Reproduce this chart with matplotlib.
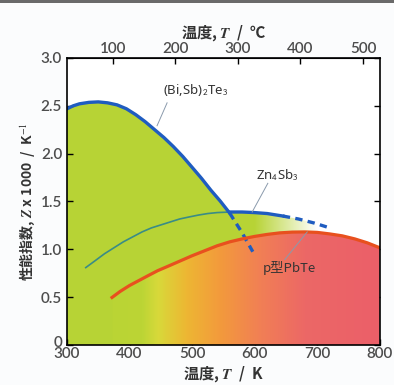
import numpy as np
import matplotlib.pyplot as plt
import matplotlib.transforms as mtransforms
from matplotlib.colors import LinearSegmentedColormap
from matplotlib.patches import Polygon, Rectangle

plt.rcParams['font.family'] = ['Noto Sans CJK JP', 'DejaVu Sans']
plt.rcParams['mathtext.fontset'] = 'stix'

# (Bi,Sb)2Te3
bi_T = [300, 310, 320, 335, 350, 365, 380, 395, 410, 425, 440, 455, 470, 485,
        500, 515, 530, 545, 560, 580, 597]
bi_Z = [2.469, 2.500, 2.521, 2.536, 2.541, 2.531, 2.510, 2.469, 2.407, 2.334, 2.251,
        2.168, 2.074, 1.971, 1.857, 1.742, 1.618, 1.504, 1.379, 1.172, 0.975]
# Zn4Sb3
zn_T = [330, 345, 360, 375, 390, 405, 420, 435, 450, 465, 480, 495, 510, 525,
        540, 560, 580, 600, 620, 645, 670, 695, 720]
zn_Z = [0.809, 0.881, 0.954, 1.016, 1.078, 1.130, 1.182, 1.224, 1.255, 1.286, 1.317,
        1.338, 1.358, 1.374, 1.384, 1.390, 1.390, 1.384, 1.374, 1.348, 1.317, 1.275, 1.224]
# p-type PbTe
pb_T = [372, 385, 400, 415, 430, 445, 460, 480, 500, 520, 540, 560, 580, 600,
        620, 640, 660, 680, 700, 720, 740, 760, 780, 800]
pb_Z = [0.497, 0.560, 0.622, 0.674, 0.726, 0.777, 0.819, 0.876, 0.933, 0.985, 1.037,
        1.078, 1.109, 1.135, 1.156, 1.172, 1.180, 1.182, 1.177, 1.161, 1.141, 1.109,
        1.068, 1.016]

x_ticks = [300, 400, 500, 600, 700, 800]
y_ticks = [0, 0.5, 1.0, 1.5, 2.0, 2.5, 3.0]
y_labels = ['0', '0.5', '1.0', '1.5', '2.0', '2.5', '3.0']
c_ticks = [100, 200, 300, 400, 500]

grad_pos = [300, 420, 445, 490, 545, 610, 680, 800]
grad_col = ['#b7d334', '#bcd535', '#d8d93a', '#edb733', '#f39a3c', '#f17f55', '#ec6866', '#eb5f69']

fig = plt.figure(figsize=(3.94, 3.85), dpi=100, facecolor='#fbfcfd')
ax = fig.add_axes([0.170, 0.1039, 0.794, 0.7455])
ax.set_facecolor('white')
ax.set_xlim(300, 800)
ax.set_ylim(0, 3.0)
ext = [300, 800, 0, 3.0]

# green fill under the Bi2Te3 / Zn4Sb3 envelope, fading to white on the right
bi_T, bi_Z, zn_T, zn_Z = map(np.array, (bi_T, bi_Z, zn_T, zn_Z))
env_x = np.concatenate([bi_T[bi_T <= 560], zn_T[zn_T > 560]])
env_y = np.concatenate([bi_Z[bi_T <= 560], zn_Z[zn_T > 560]])
env = Polygon(np.column_stack([np.r_[env_x, env_x[-1], 300], np.r_[env_y, 0, 0]]),
              closed=True, facecolor='none', edgecolor='none', transform=ax.transData)
ax.add_patch(env)
xs = np.linspace(300, 800, 500)
alpha = np.clip((700 - xs) / 100, 0, 1)
rgba = np.zeros((2, 500, 4))
rgba[..., 0] = 0.72
rgba[..., 1] = 0.83
rgba[..., 2] = 0.21
rgba[..., 3] = alpha
im1 = ax.imshow(rgba, extent=ext, aspect='auto', origin='lower', zorder=1)
im1.set_clip_path(env)

# colour gradient under PbTe
cmap = LinearSegmentedColormap.from_list(
    'pbte', [((p - 300) / 500, c) for p, c in zip(grad_pos, grad_col)])
pb_poly = Polygon(np.column_stack([np.r_[pb_T[0], pb_T, 800], np.r_[0, pb_Z, 0]]),
                  closed=True, facecolor='none', edgecolor='none', transform=ax.transData)
ax.add_patch(pb_poly)
im2 = ax.imshow(np.linspace(0, 1, 500)[None, :], extent=ext, aspect='auto',
                origin='lower', cmap=cmap, zorder=2)
im2.set_clip_path(pb_poly)

# curves
blue = '#1f5cc0'
dash = (0, (2.2, 1.6))
ax.plot(bi_T[bi_T <= 560], bi_Z[bi_T <= 560], color=blue, lw=2.4, zorder=5,
        solid_capstyle='round', solid_joinstyle='round')
ax.plot(bi_T[bi_T >= 560], bi_Z[bi_T >= 560], color=blue, lw=2.4, ls=dash, zorder=5)
ax.plot(zn_T[zn_T <= 560], zn_Z[zn_T <= 560], color='#3a8c86', lw=1.2, zorder=4)
mz = (zn_T >= 560) & (zn_T <= 645)
ax.plot(zn_T[mz], zn_Z[mz], color=blue, lw=2.4, zorder=5, solid_joinstyle='round')
ax.plot(zn_T[zn_T >= 645], zn_Z[zn_T >= 645], color=blue, lw=2.4, ls=dash, zorder=5)
ax.plot(pb_T, pb_Z, color='#e8501e', lw=2.3, zorder=5, solid_joinstyle='round')

# labels with leader lines
lead = dict(color='#8a9aac', lw=0.7, zorder=6)
ax.plot([460, 444], [2.531, 2.292], **lead)
ax.plot([621, 596], [1.690, 1.390], **lead)
ax.plot([648, 684], [0.892, 1.182], **lead)
tk = dict(fontsize=9.5, color='#333333', ha='center', va='center', zorder=7,
          family=['Noto Sans', 'DejaVu Sans'])
ax.text(506, 2.666, '(Bi,Sb)$_\\mathsf{2}$Te$_\\mathsf{3}$', **tk)
ax.text(637, 1.774, 'Zn$_\\mathsf{4}$Sb$_\\mathsf{3}$', **tk)
ax.text(656, 0.809, 'p型PbTe', fontsize=9.5, color='#333333', ha='center', va='center', zorder=7)

# axes
tick_font = ['Lato', 'DejaVu Sans']
for s in ax.spines.values():
    s.set_linewidth(1.2)
    s.set_zorder(8)
ax.set_xticks(x_ticks)
ax.set_yticks(y_ticks)
ax.set_yticklabels(y_labels)
ax.tick_params(direction='in', length=4, width=1, labelsize=11, labelcolor='#4d4d4d',
               right=True, top=False, zorder=8)
ax.tick_params(axis='x', pad=1.5)
for lab in ax.get_xticklabels() + ax.get_yticklabels():
    lab.set_family(tick_font)
    lab.set_fontweight('semibold')
# lift the "0" label a little so it clears "300"
zero = ax.get_yticklabels()[0]
zero.set_transform(zero.get_transform() + mtransforms.ScaledTranslation(0, 3 / 100, fig.dpi_scale_trans))

sec = ax.secondary_xaxis('top', functions=(lambda k: k - 273.15, lambda c: c + 273.15))
sec.set_xticks(c_ticks)
sec.tick_params(direction='in', length=4, width=1, labelsize=11, labelcolor='#4d4d4d', pad=1.5)
for lab in sec.get_xticklabels():
    lab.set_family(tick_font)
    lab.set_fontweight('semibold')

lbl = dict(color='#333333', fontweight='bold')
ax.set_xlabel('温度, $\\boldsymbol{T}$  /  K', va='center', fontsize=11, **lbl)
ax.xaxis.set_label_coords(0.5, -0.103)
sec.set_xlabel('温度, $\\boldsymbol{T}$  /  ℃', labelpad=3, fontsize=11, **lbl)
ax.set_ylabel('性能指数, $\\boldsymbol{Z}$ x 1000  /  K$^{-1}$', labelpad=3, fontsize=10, **lbl)

fig.add_artist(Rectangle((0, 1 - 3 / 385), 1, 3 / 385, transform=fig.transFigure,
                         facecolor='#6a6a6a', edgecolor='none'))

fig.savefig('out.png', dpi=100, facecolor=fig.get_facecolor())
